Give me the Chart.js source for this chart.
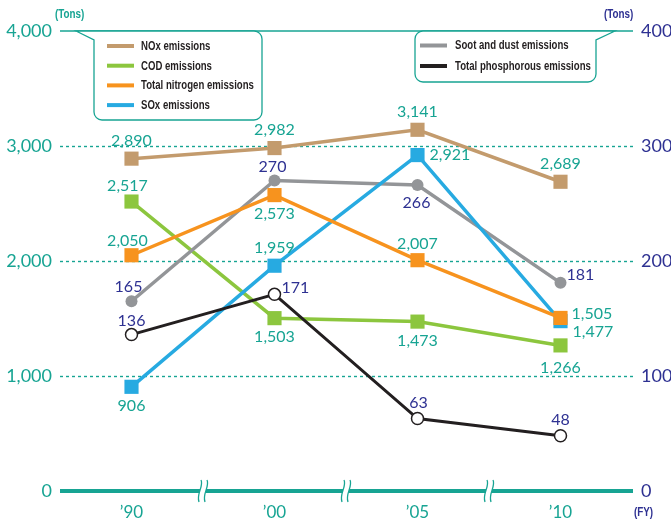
<!DOCTYPE html>
<html>
<head>
<meta charset="utf-8">
<script src="https://cdn.jsdelivr.net/npm/chart.js@4/dist/chart.umd.min.js"></script>
<style>
  body { margin: 0; background: #fff; }
  #wrap { width: 671px; height: 522px; }
</style>
</head>
<body>
<div id="wrap"><canvas id="chart" width="671" height="522"></canvas></div>
<script>
// ===== data =====
const years = ["’90", "’00", "’05", "’10"];

// left axis, tons
const noxValues = [2890, 2982, 3141, 2689];
const codValues = [2517, 1503, 1473, 1266];
const nitrogenValues = [2050, 2573, 2007, 1505];
const soxValues = [906, 1959, 2921, 1477];

// right axis, tons
const sootValues = [165, 270, 266, 181];
const phosphorusValues = [136, 171, 63, 48];

const leftTicks = [0, 1000, 2000, 3000, 4000];
const rightTicks = [0, 100, 200, 300, 400];

// ===== styles =====
const TEAL = "#17a493";
const NAVY = "#2e3192";
const NUM_FONT = "Lato, 'Open Sans', sans-serif";
const LEGEND_FONT = "bold 12px 'Liberation Sans', Arial, sans-serif";

// label placement per point: [dx, dy, align]
const ABOVE = [0, -18, "center"];
const BELOW = [0, 19, "center"];
const labelPos = {
  nox: [ABOVE, ABOVE, ABOVE, ABOVE],
  cod: [[-4, -16, "center"], BELOW, BELOW, [0, 22, "center"]],
  nitrogen: [[-4, -14, "center"], BELOW, [0, -16, "center"], [11, -4, "left"]],
  sox: [BELOW, ABOVE, [12, 0, "left"], [12, 11, "left"]],
  soot: [[-3, -14, "center"], [-2, -14, "center"], [-1, 18, "center"], [6, -8, "left"]],
  phosphorus: [[0, -14, "center"], [7, -7, "left"], [1, -16, "center"], [0, -16, "center"]]
};

function squareSeries(label, data, color, key, order) {
  return {
    label, data, key, order,
    yAxisID: "yL",
    borderColor: color,
    backgroundColor: color,
    borderWidth: 3.5,
    pointStyle: "rect",
    pointRadius: 10,
    pointBorderWidth: 0,
    pointBackgroundColor: color,
    labelColor: TEAL
  };
}

const datasets = [
  squareSeries("NOx emissions", noxValues, "#c39b6d", "nox", 6),
  squareSeries("COD emissions", codValues, "#8cc63e", "cod", 5),
  squareSeries("Total nitrogen emissions", nitrogenValues, "#f7931e", "nitrogen", 2),
  squareSeries("SOx emissions", soxValues, "#27aae1", "sox", 3),
  {
    label: "Soot and dust emissions", data: sootValues, key: "soot", order: 4,
    yAxisID: "yR",
    borderColor: "#939598", backgroundColor: "#939598",
    borderWidth: 3.5,
    pointRadius: 6, pointBorderWidth: 0, pointBackgroundColor: "#939598",
    labelColor: NAVY
  },
  {
    label: "Total phosphorous emissions", data: phosphorusValues, key: "phosphorus", order: 1,
    yAxisID: "yR",
    borderColor: "#231f20", backgroundColor: "#ffffff",
    borderWidth: 3,
    pointRadius: 6, pointBorderWidth: 1.5,
    pointBorderColor: "#231f20", pointBackgroundColor: "#ffffff",
    labelColor: NAVY
  }
];

// ===== legend boxes =====
const leftLegend = datasets.slice(0, 4);
const rightLegend = datasets.slice(4);

function bubble(ctx, left, right, bottom, top, tailX, r) {
  ctx.beginPath();
  if (tailX < left) {
    ctx.moveTo(tailX, top);
    ctx.lineTo(left, top + 9);
    ctx.lineTo(left, bottom - r);
    ctx.arcTo(left, bottom, left + r, bottom, r);
    ctx.lineTo(right - r, bottom);
    ctx.arcTo(right, bottom, right, bottom - r, r);
    ctx.lineTo(right, top + r);
    ctx.arcTo(right, top, right - r, top, r);
    ctx.closePath();
  } else {
    ctx.moveTo(tailX, top);
    ctx.lineTo(right, top + 9);
    ctx.lineTo(right, bottom - r);
    ctx.arcTo(right, bottom, right - r, bottom, r);
    ctx.lineTo(left + r, bottom);
    ctx.arcTo(left, bottom, left, bottom - r, r);
    ctx.lineTo(left, top + r);
    ctx.arcTo(left, top, left + r, top, r);
    ctx.closePath();
  }
  ctx.fillStyle = "#fff";
  ctx.fill();
  ctx.strokeStyle = TEAL;
  ctx.lineWidth = 1.3;
  ctx.stroke();
}

// condensed bold text, squeezed horizontally
function narrowText(ctx, text, x, y, squeeze) {
  ctx.save();
  ctx.translate(x, y);
  ctx.scale(squeeze, 1);
  ctx.fillText(text, 0, 0);
  ctx.restore();
}

function legendRows(ctx, items, lineX, textX, firstY, step) {
  ctx.font = LEGEND_FONT;
  ctx.textAlign = "left";
  ctx.textBaseline = "middle";
  items.forEach((ds, i) => {
    const y = firstY + i * step;
    ctx.fillStyle = ds.borderColor;
    ctx.fillRect(lineX, y - 2, 27, 4);
    ctx.fillStyle = "#231f20";
    narrowText(ctx, ds.label, textX, y + 0.5, 0.8);
  });
}

// ===== frame: grid, baseline with breaks, legends, unit captions =====
const framePlugin = {
  id: "frame",
  beforeDatasetsDraw(chart) {
    const { ctx, chartArea, scales } = chart;
    const yL = scales.yL;
    const x0 = chartArea.left;
    const x1 = chartArea.right + 1;
    ctx.save();

    // dashed grid
    ctx.strokeStyle = TEAL;
    ctx.lineWidth = 1.4;
    ctx.setLineDash([3, 3]);
    leftTicks.slice(1, -1).forEach(v => {
      const y = Math.round(yL.getPixelForValue(v)) + 0.5;
      ctx.beginPath();
      ctx.moveTo(x0, y);
      ctx.lineTo(x1, y);
      ctx.stroke();
    });
    ctx.setLineDash([]);

    // top line
    const yTop = yL.getPixelForValue(leftTicks[leftTicks.length - 1]);
    ctx.lineWidth = 1.4;
    ctx.beginPath();
    ctx.moveTo(x0, yTop);
    ctx.lineTo(x1, yTop);
    ctx.stroke();

    // legend bubbles hang from the top line
    bubble(ctx, 94, 262, 120, yTop, 76, 8);
    bubble(ctx, 415, 596, 82, yTop, 615, 8);
    legendRows(ctx, leftLegend, 107, 141, 46, 19.7);
    legendRows(ctx, rightLegend, 420, 455, 45.5, 20.5);

    // baseline with axis breaks
    const yBase = yL.getPixelForValue(0);
    ctx.lineWidth = 4;
    ctx.beginPath();
    ctx.moveTo(x0, yBase);
    ctx.lineTo(x1, yBase);
    ctx.stroke();
    const xs = scales.x;
    for (let i = 0; i < years.length - 1; i++) {
      const xm = (xs.getPixelForValue(i) + xs.getPixelForValue(i + 1)) / 2;
      ctx.fillStyle = "#fff";
      ctx.fillRect(xm - 3, yBase - 3, 6, 6);
      ctx.lineWidth = 1.3;
      [-3, 3].forEach(dx => {
        const cx = xm + dx;
        ctx.beginPath();
        ctx.moveTo(cx + 1, yBase - 11);
        ctx.bezierCurveTo(cx + 4, yBase - 5, cx - 4, yBase + 3, cx - 1, yBase + 11);
        ctx.stroke();
      });
    }

    // unit captions
    ctx.font = "bold 12px 'Liberation Sans', Arial, sans-serif";
    ctx.textBaseline = "middle";
    ctx.textAlign = "left";
    ctx.fillStyle = TEAL;
    narrowText(ctx, "(Tons)", 55, 15, 0.82);
    ctx.fillStyle = NAVY;
    narrowText(ctx, "(Tons)", 604, 15, 0.82);
    narrowText(ctx, "(FY)", 634, 513, 0.82);
    ctx.restore();
  }
};

// ===== value labels =====
const valueLabelPlugin = {
  id: "valueLabels",
  afterDatasetsDraw(chart) {
    const { ctx } = chart;
    ctx.save();
    ctx.font = "16px " + NUM_FONT;
    ctx.textBaseline = "middle";
    chart.data.datasets.forEach((ds, di) => {
      const meta = chart.getDatasetMeta(di);
      meta.data.forEach((pt, i) => {
        const [dx, dy, align] = labelPos[ds.key][i];
        ctx.fillStyle = ds.labelColor;
        ctx.textAlign = align;
        ctx.fillText(ds.data[i].toLocaleString("en-US"), pt.x + dx, pt.y + dy);
      });
    });
    ctx.restore();
  }
};

new Chart(document.getElementById("chart"), {
  type: "line",
  data: { labels: years, datasets },
  options: {
    responsive: false,
    animation: false,
    layout: { padding: { top: 31, left: 0, right: 0, bottom: 0 } },
    plugins: { legend: { display: false }, tooltip: { enabled: false } },
    elements: { line: { tension: 0 } },
    scales: {
      x: {
        offset: true,
        grid: { display: false, drawTicks: false },
        border: { display: false },
        ticks: { color: TEAL, font: { family: NUM_FONT, size: 17 }, padding: 11 },
        afterFit(scale) { scale.height = 31; }
      },
      yL: {
        position: "left",
        min: 0, max: 4000,
        grid: { display: false, drawTicks: false },
        border: { display: false },
        afterBuildTicks(scale) { scale.ticks = leftTicks.map(v => ({ value: v })); },
        ticks: {
          color: TEAL, padding: 8,
          font: { family: NUM_FONT, size: 18 },
          callback: v => v.toLocaleString("en-US")
        },
        afterFit(scale) { scale.width = 60; }
      },
      yR: {
        position: "right",
        min: 0, max: 400,
        grid: { display: false, drawTicks: false },
        border: { display: false },
        afterBuildTicks(scale) { scale.ticks = rightTicks.map(v => ({ value: v })); },
        ticks: {
          color: NAVY, padding: 9,
          font: { family: NUM_FONT, size: 18 },
          callback: v => String(v)
        },
        afterFit(scale) { scale.width = 39; }
      }
    }
  },
  plugins: [framePlugin, valueLabelPlugin]
});
</script>
</body>
</html>
